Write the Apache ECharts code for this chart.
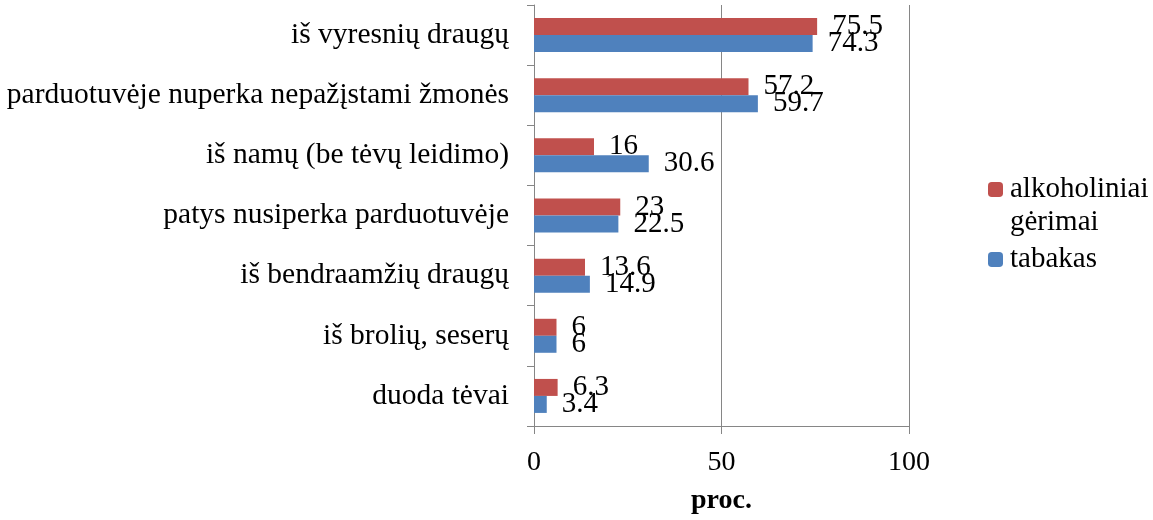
<!DOCTYPE html>
<html>
<head>
<meta charset="utf-8">
<script src="https://cdn.jsdelivr.net/npm/echarts@6/dist/echarts.min.js"></script>
<style>
  html, body { margin: 0; padding: 0; background: #fff; }
  #main { width: 1153px; height: 520px; }
</style>
</head>
<body>
<div id="main"></div>
<script>
  // kategorijos (iš viršaus į apačią)
  var categories = [
    'iš vyresnių draugų',
    'parduotuvėje nuperka nepažįstami žmonės',
    'iš namų (be tėvų leidimo)',
    'patys nusiperka parduotuvėje',
    'iš bendraamžių draugų',
    'iš brolių, seserų',
    'duoda tėvai'
  ];
  var alkoholis = [75.5, 57.2, 16, 23, 13.6, 6, 6.3];
  var tabakas = [74.3, 59.7, 30.6, 22.5, 14.9, 6, 3.4];
  var xTicks = [0, 50, 100];

  var font = 'Liberation Serif, Times New Roman, serif';
  var gray = '#868686';

  var myChart = echarts.init(document.getElementById('main'));
  var option = {
    backgroundColor: '#fff',
    animation: false,
    textStyle: { fontFamily: font },
    legend: {
      orient: 'vertical',
      left: 988,
      top: 140,
      itemWidth: 15,
      itemHeight: 15,
      itemGap: 4,
      padding: 0,
      data: ['alkoholiniai gėrimai', 'tabakas'],
      formatter: function (name) {
        // ikona lygiuojama su pirma eilute
        if (name === 'alkoholiniai gėrimai') return '\u00a0\nalkoholiniai\ngėrimai';
        return name;
      },
      textStyle: {
        fontFamily: font,
        fontSize: 29,
        lineHeight: 33,
        padding: [0, 0, 0, 2],
        color: '#000'
      }
    },
    grid: {
      left: 534,
      right: 244,
      top: 5,
      bottom: 94,
      containLabel: false
    },
    xAxis: {
      type: 'value',
      min: xTicks[0],
      max: xTicks[xTicks.length - 1],
      interval: 50,
      name: 'proc.',
      nameLocation: 'middle',
      nameGap: 61,
      nameTextStyle: {
        fontFamily: font,
        fontSize: 28,
        fontWeight: 'bold',
        color: '#000'
      },
      axisLine: { show: true, lineStyle: { color: gray, width: 1 } },
      axisTick: { show: true, length: 8, lineStyle: { color: gray } },
      axisLabel: {
        margin: 23,
        fontFamily: font,
        fontSize: 28,
        color: '#000'
      },
      splitLine: { show: true, lineStyle: { color: gray, width: 1 } }
    },
    yAxis: {
      type: 'category',
      inverse: true,
      data: categories,
      axisLine: { show: true, lineStyle: { color: gray, width: 1 } },
      axisTick: { show: true, length: 7, lineStyle: { color: gray } },
      axisLabel: {
        margin: 25,
        fontFamily: font,
        fontSize: 29.5,
        padding: [7, 0, 0, 0],
        color: '#000'
      }
    },
    series: [
      {
        name: 'alkoholiniai gėrimai',
        type: 'bar',
        color: '#C0504D',
        barWidth: 17,
        barGap: '0%',
        label: {
          show: true,
          position: 'right',
          distance: 15,
          fontFamily: font,
          fontSize: 29,
          color: '#000'
        },
        data: alkoholis
      },
      {
        name: 'tabakas',
        type: 'bar',
        color: '#4F81BD',
        barWidth: 17,
        barGap: '0%',
        label: {
          show: true,
          position: 'right',
          distance: 15,
          fontFamily: font,
          fontSize: 29,
          color: '#000'
        },
        data: tabakas
      }
    ]
  };
  myChart.setOption(option);
</script>
</body>
</html>
